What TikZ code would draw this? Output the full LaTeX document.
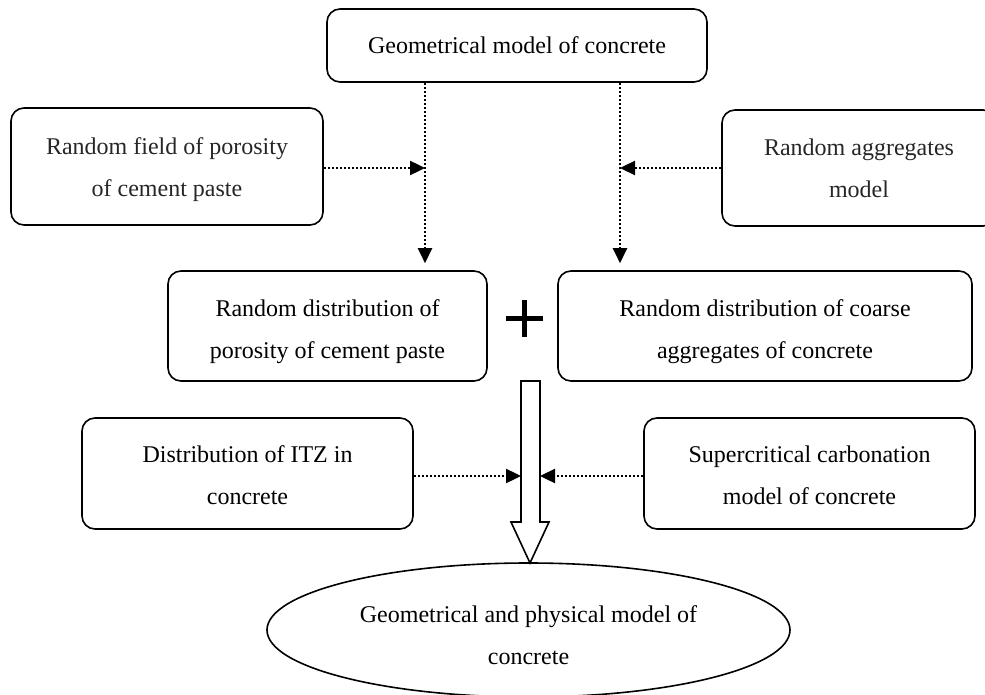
\documentclass[tikz,border=0pt]{standalone}
\usepackage{fontspec}
\setmainfont{Liberation Serif}
\usetikzlibrary{arrows.meta,shapes.geometric}
\begin{document}
\begin{tikzpicture}[x=1pt,y=-1pt,
  box/.style={draw,line width=1.6pt,rounded corners=13pt,inner sep=0pt},
  txt/.style={align=center,inner sep=0pt,font=\fontsize{24}{42}\selectfont,
    execute at end node=\vphantom{p}},
  gtext/.style={text=black!85},
  dotarrow/.style={line width=2.4pt,dash pattern=on 2.5pt off 1.5pt,-{Triangle[length=15pt,width=14pt]}}]
\useasboundingbox (0,0) rectangle (985,695);
\begin{scope}
\clip (0,0) rectangle (985,695);
\node[box,minimum width=380pt,minimum height=73pt] (top) at (517,45.5) {};
\node[txt] (topt) at ([yshift=-2pt]top.center) {Geometrical model of concrete};
\node[box,minimum width=312pt,minimum height=117pt] (A) at (167,166.5) {};
\node[txt,gtext] (At) at ([yshift=-3.5pt]A.center) {Random field of porosity\\of cement paste};
\node[box,minimum width=274pt,minimum height=116pt] (B) at (859,168) {};
\node[txt,gtext] (Bt) at ([yshift=-3pt]B.center) {Random aggregates\\model};
\node[box,minimum width=319pt,minimum height=110pt] (C) at (327.5,326) {};
\node[txt] (Ct) at ([yshift=-5.5pt]C.center) {Random distribution of\\porosity of cement paste};
\node[box,minimum width=414pt,minimum height=110pt] (D) at (765,326) {};
\node[txt] (Dt) at ([yshift=-5.5pt]D.center) {Random distribution of coarse\\aggregates of concrete};
\node[box,minimum width=331pt,minimum height=111pt] (E) at (247.5,473.5) {};
\node[txt] (Et) at ([yshift=-4.5pt]E.center) {Distribution of ITZ in\\concrete};
\node[box,minimum width=331pt,minimum height=111pt] (F) at (809.5,473.5) {};
\node[txt] (Ft) at ([yshift=-4.5pt]F.center) {Supercritical carbonation\\model of concrete};
\node[draw,ellipse,line width=1.6pt,minimum width=523pt,minimum height=134pt,inner sep=0pt] (G) at (528.5,630) {};
\node[txt] (Gt) at ([yshift=-7.5pt]G.center) {Geometrical and physical model of\\concrete};
\end{scope}
% vertical dotted arrows
\draw[dotarrow] (top.south -| 425,0) -- ([yshift=7pt]C.north -| 425,0);
\draw[dotarrow] (top.south -| 620,0) -- ([yshift=7pt]D.north -| 620,0);
% horizontal dotted arrows
\coordinate (jl) at (425,168);
\coordinate (jr) at (620,168);
\draw[dotarrow] (A.east |- jl) -- (jl);
\draw[dotarrow] (B.west |- jr) -- (jr);
% plus sign
\coordinate (plus) at (524.5,318.5);
\draw[line width=4.5pt] ([xshift=-18.5pt]plus) -- ([xshift=18.5pt]plus);
\draw[line width=4.5pt] ([yshift=-18.5pt]plus) -- ([yshift=18.5pt]plus);
% hollow arrow
\coordinate (hs1) at (521,381);
\coordinate (hs2) at (540,381);
\coordinate (tip) at (530,563);
\draw[line width=1.6pt,fill=white,line join=miter]
  (hs1) -- (521,522) -- (511,522) -- (tip) -- (549,522) -- (540,522) -- (hs2) -- cycle;
% arrows into hollow arrow
\coordinate (ml) at (521,476);
\coordinate (mr) at (540,476);
\draw[dotarrow] (E.east |- ml) -- (ml);
\draw[dotarrow] (F.west |- mr) -- (mr);
\end{tikzpicture}
\end{document}
